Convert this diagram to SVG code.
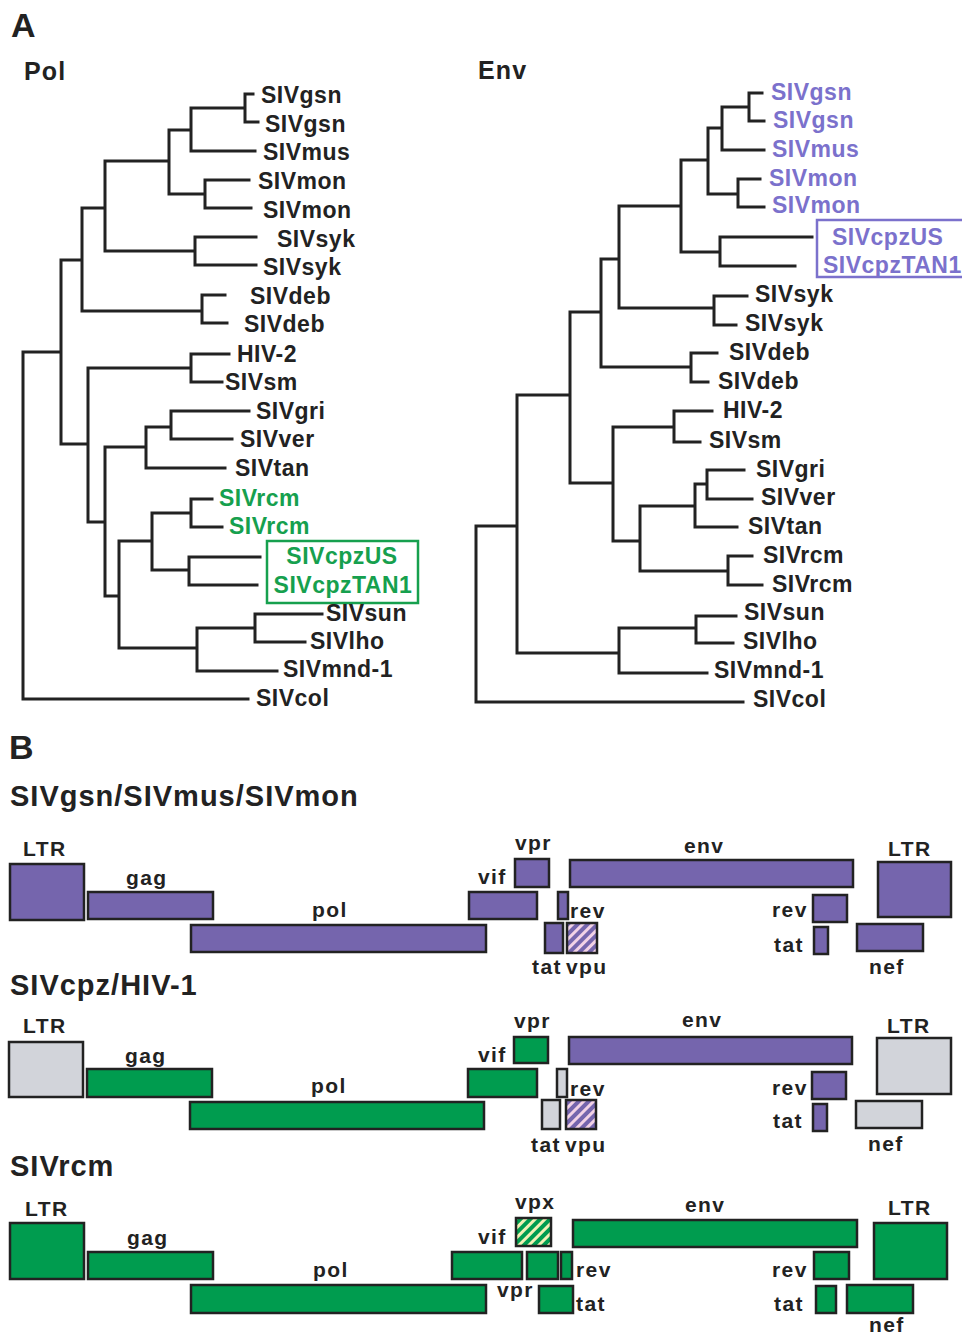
<svg xmlns="http://www.w3.org/2000/svg" width="962" height="1336" viewBox="0 0 962 1336">
<defs>
<style>
text{font-family:"Liberation Sans",Arial,Helvetica,sans-serif;font-weight:bold;fill:#222}
.lf{font-size:23px;letter-spacing:0.5px}
.pu{fill:#7b71cc}
.gn{fill:#16a04e}
.hd{font-size:29px;letter-spacing:1px}
.pn{font-size:34px}
.tt{font-size:25px;letter-spacing:1.2px}
.gl{font-size:21px;letter-spacing:1.4px}
.tree path{fill:none;stroke:#222;stroke-width:3;stroke-linecap:square}
rect{stroke:#222;stroke-width:2.5}
.P{fill:#7565ad}
.G{fill:#009c4f}
.R{fill:#d2d4da}
.HP{fill:url(#hp)}
.HG{fill:url(#hg)}
</style>
<pattern id="hp" patternUnits="userSpaceOnUse" width="7" height="7" patternTransform="rotate(45)">
<rect x="0" y="0" width="7" height="7" style="fill:#7565ad;stroke:none"/>
<rect x="0" y="0" width="3" height="7" style="fill:#f2d2e6;stroke:none"/>
</pattern>
<pattern id="hg" patternUnits="userSpaceOnUse" width="7" height="7" patternTransform="rotate(45)">
<rect x="0" y="0" width="7" height="7" style="fill:#009c4f;stroke:none"/>
<rect x="0" y="0" width="3" height="7" style="fill:#f2f0b4;stroke:none"/>
</pattern>
</defs>
<rect x="0" y="0" width="962" height="1336" style="fill:#fff;stroke:none"/>

<text class="pn" x="11" y="37">A</text>
<text class="tt" x="24" y="80">Pol</text>
<text class="tt" x="478" y="79">Env</text>

<g id="connectors" class="tree">
<path d="M253 94H245V122H258M245 108H191M191 108V151H255M191 130H169M249 180H205V208H251M205 194H169M169 130V194M169 161H105M256 237H195V265H256M195 251H105M105 161V251M105 208H82M225 295H202V323H227M202 311H82M82 208V311M82 260H61M61 260V444M61 352H23M229 354H191V382H222M191 368H88M249 411H171V439H232M171 427H146M146 427V468H225M146 447H105M212 499H191V527H222M191 513H152M260 557H189V585H257M189 570H152M152 513V570M152 541H119M322 614H255V642H305M255 628H197M197 628V671H277M197 648H119M119 541V648M119 596H105M105 447V596M105 522H88M88 368V522M88 444H61M23 352V699H248"/>
<path d="M762 93H749V121H764M749 107H722M722 107V150H764M722 128H708M760 179H738V207H764M738 194H708M708 128V194M708 160H681M812 237H720V266H795M720 252H681M681 160V252M681 206H619M747 296H714V325H736M714 308H619M619 206V308M619 259H601M717 353H691V382H708M691 367H601M601 259V367M601 312H570M570 312V483M570 395H517M712 411H674V442H700M674 427H613M744 470H707V499H752M707 484H695M695 484V527H737M695 506H640M752 556H728V585H762M728 571H640M640 506V571M640 541H613M613 427V541M613 483H570M736 616H696V643H733M696 628H619M619 628V673H707M619 653H517M517 395V653M517 526H476M476 526V702H743"/>
</g>

<g id="pol-tree">
<g id="pol-gsn1"><text class="lf" x="261" y="103">SIVgsn</text></g>
<g id="pol-gsn2"><text class="lf" x="265" y="132">SIVgsn</text></g>
<g id="pol-mus"><text class="lf" x="263" y="160">SIVmus</text></g>
<g id="pol-mon1"><text class="lf" x="258" y="189">SIVmon</text></g>
<g id="pol-mon2"><text class="lf" x="263" y="218">SIVmon</text></g>
<g id="pol-syk1"><text class="lf" x="277" y="247">SIVsyk</text></g>
<g id="pol-syk2"><text class="lf" x="263" y="275">SIVsyk</text></g>
<g id="pol-deb1"><text class="lf" x="250" y="304">SIVdeb</text></g>
<g id="pol-deb2"><text class="lf" x="244" y="332">SIVdeb</text></g>
<g id="pol-hiv2"><text class="lf" x="237" y="362">HIV-2</text></g>
<g id="pol-sm"><text class="lf" x="225" y="390">SIVsm</text></g>
<g id="pol-gri"><text class="lf" x="256" y="419">SIVgri</text></g>
<g id="pol-ver"><text class="lf" x="240" y="447">SIVver</text></g>
<g id="pol-tan"><text class="lf" x="235" y="476">SIVtan</text></g>
<g id="pol-rcm1"><text class="lf gn" x="219" y="506">SIVrcm</text></g>
<g id="pol-rcm2"><text class="lf gn" x="229" y="534">SIVrcm</text></g>
<g id="pol-cpz">
<rect x="267" y="541" width="151" height="62" style="fill:none;stroke:#16a04e;stroke-width:2.5"/>
<text class="lf gn" x="342" y="564" text-anchor="middle">SIVcpzUS</text>
<text class="lf gn" x="343" y="593" text-anchor="middle">SIVcpzTAN1</text>
</g>
<g id="pol-sun"><text class="lf" x="326" y="621">SIVsun</text></g>
<g id="pol-lho"><text class="lf" x="310" y="649">SIVlho</text></g>
<g id="pol-mnd1"><text class="lf" x="283" y="677">SIVmnd-1</text></g>
<g id="pol-col"><text class="lf" x="256" y="706">SIVcol</text></g>
</g>

<g id="env-tree">
<g id="env-gsn1"><text class="lf pu" x="771" y="100">SIVgsn</text></g>
<g id="env-gsn2"><text class="lf pu" x="773" y="128">SIVgsn</text></g>
<g id="env-mus"><text class="lf pu" x="772" y="157">SIVmus</text></g>
<g id="env-mon1"><text class="lf pu" x="769" y="186">SIVmon</text></g>
<g id="env-mon2"><text class="lf pu" x="772" y="213">SIVmon</text></g>
<g id="env-cpz">
<rect x="817" y="220" width="150" height="57" style="fill:none;stroke:#7b71cc;stroke-width:2.5"/>
<text class="lf pu" x="832" y="245">SIVcpzUS</text>
<text class="lf pu" x="823" y="273">SIVcpzTAN1</text>
</g>
<g id="env-syk1"><text class="lf" x="755" y="302">SIVsyk</text></g>
<g id="env-syk2"><text class="lf" x="745" y="331">SIVsyk</text></g>
<g id="env-deb1"><text class="lf" x="729" y="360">SIVdeb</text></g>
<g id="env-deb2"><text class="lf" x="718" y="389">SIVdeb</text></g>
<g id="env-hiv2"><text class="lf" x="723" y="418">HIV-2</text></g>
<g id="env-sm"><text class="lf" x="709" y="448">SIVsm</text></g>
<g id="env-gri"><text class="lf" x="756" y="477">SIVgri</text></g>
<g id="env-ver"><text class="lf" x="761" y="505">SIVver</text></g>
<g id="env-tan"><text class="lf" x="748" y="534">SIVtan</text></g>
<g id="env-rcm1"><text class="lf" x="763" y="563">SIVrcm</text></g>
<g id="env-rcm2"><text class="lf" x="772" y="592">SIVrcm</text></g>
<g id="env-sun"><text class="lf" x="744" y="620">SIVsun</text></g>
<g id="env-lho"><text class="lf" x="743" y="649">SIVlho</text></g>
<g id="env-mnd1"><text class="lf" x="714" y="678">SIVmnd-1</text></g>
<g id="env-col"><text class="lf" x="753" y="707">SIVcol</text></g>
</g>

<text class="pn" x="9" y="759">B</text>

<g id="genome-gsn">
<text class="hd" x="10" y="806">SIVgsn/SIVmus/SIVmon</text>
<g id="g1-ltr5"><rect class="P" x="10" y="864" width="74" height="56"/><text class="gl" x="23" y="856">LTR</text></g>
<g id="g1-gag"><rect class="P" x="88" y="892" width="125" height="27"/><text class="gl" x="126" y="885">gag</text></g>
<g id="g1-pol"><rect class="P" x="191" y="925" width="295" height="27"/><text class="gl" x="312" y="917">pol</text></g>
<g id="g1-vif"><rect class="P" x="469" y="892" width="68" height="27"/><text class="gl" x="478" y="884">vif</text></g>
<g id="g1-vpr"><rect class="P" x="515" y="859" width="34" height="28"/><text class="gl" x="515" y="850">vpr</text></g>
<g id="g1-env"><rect class="P" x="570" y="860" width="283" height="27"/><text class="gl" x="684" y="853">env</text></g>
<g id="g1-rev1"><rect class="P" x="558" y="892" width="10" height="27"/><text class="gl" x="570" y="918">rev</text></g>
<g id="g1-tat1"><rect class="P" x="545" y="923" width="18" height="30"/><text class="gl" x="532" y="974">tat</text></g>
<g id="g1-vpu"><rect class="HP" x="567" y="923" width="30" height="30"/><text class="gl" x="566" y="974">vpu</text></g>
<g id="g1-rev2"><rect class="P" x="813" y="895" width="34" height="27"/><text class="gl" x="772" y="917">rev</text></g>
<g id="g1-tat2"><rect class="P" x="814" y="927" width="14" height="27"/><text class="gl" x="774" y="952">tat</text></g>
<g id="g1-ltr3"><rect class="P" x="878" y="862" width="73" height="55"/><text class="gl" x="888" y="856">LTR</text></g>
<g id="g1-nef"><rect class="P" x="857" y="924" width="66" height="27"/><text class="gl" x="869" y="974">nef</text></g>
</g>

<g id="genome-cpz">
<text class="hd" x="10" y="995">SIVcpz/HIV-1</text>
<g id="g2-ltr5"><rect class="R" x="9" y="1042" width="74" height="55"/><text class="gl" x="23" y="1033">LTR</text></g>
<g id="g2-gag"><rect class="G" x="87" y="1069" width="125" height="28"/><text class="gl" x="125" y="1063">gag</text></g>
<g id="g2-pol"><rect class="G" x="190" y="1102" width="294" height="27"/><text class="gl" x="311" y="1093">pol</text></g>
<g id="g2-vif"><rect class="G" x="468" y="1069" width="69" height="28"/><text class="gl" x="478" y="1062">vif</text></g>
<g id="g2-vpr"><rect class="G" x="514" y="1037" width="34" height="26"/><text class="gl" x="514" y="1028">vpr</text></g>
<g id="g2-env"><rect class="P" x="569" y="1037" width="283" height="27"/><text class="gl" x="682" y="1027">env</text></g>
<g id="g2-rev1"><rect class="R" x="557" y="1069" width="10" height="28"/><text class="gl" x="570" y="1096">rev</text></g>
<g id="g2-tat1"><rect class="R" x="542" y="1100" width="18" height="29"/><text class="gl" x="531" y="1152">tat</text></g>
<g id="g2-vpu"><rect class="HP" x="566" y="1100" width="30" height="29"/><text class="gl" x="565" y="1152">vpu</text></g>
<g id="g2-rev2"><rect class="P" x="812" y="1072" width="34" height="27"/><text class="gl" x="772" y="1095">rev</text></g>
<g id="g2-tat2"><rect class="P" x="813" y="1104" width="14" height="27"/><text class="gl" x="773" y="1128">tat</text></g>
<g id="g2-ltr3"><rect class="R" x="877" y="1038" width="74" height="56"/><text class="gl" x="887" y="1033">LTR</text></g>
<g id="g2-nef"><rect class="R" x="856" y="1101" width="66" height="27"/><text class="gl" x="868" y="1151">nef</text></g>
</g>

<g id="genome-rcm">
<text class="hd" x="10" y="1176">SIVrcm</text>
<g id="g3-ltr5"><rect class="G" x="10" y="1223" width="74" height="56"/><text class="gl" x="25" y="1216">LTR</text></g>
<g id="g3-gag"><rect class="G" x="88" y="1252" width="125" height="27"/><text class="gl" x="127" y="1245">gag</text></g>
<g id="g3-pol"><rect class="G" x="191" y="1285" width="295" height="28"/><text class="gl" x="313" y="1277">pol</text></g>
<g id="g3-vif"><rect class="G" x="452" y="1252" width="70" height="27"/><text class="gl" x="478" y="1244">vif</text></g>
<g id="g3-vpx"><rect class="HG" x="516" y="1218" width="35" height="28"/><text class="gl" x="515" y="1209">vpx</text></g>
<g id="g3-vpr"><rect class="G" x="527" y="1252" width="31" height="27"/><text class="gl" x="497" y="1297">vpr</text></g>
<g id="g3-rev1"><rect class="G" x="561" y="1252" width="11" height="27"/><text class="gl" x="576" y="1277">rev</text></g>
<g id="g3-tat1"><rect class="G" x="539" y="1286" width="34" height="27"/><text class="gl" x="576" y="1311">tat</text></g>
<g id="g3-env"><rect class="G" x="573" y="1220" width="284" height="27"/><text class="gl" x="685" y="1212">env</text></g>
<g id="g3-rev2"><rect class="G" x="814" y="1252" width="35" height="27"/><text class="gl" x="772" y="1277">rev</text></g>
<g id="g3-tat2"><rect class="G" x="816" y="1286" width="20" height="27"/><text class="gl" x="774" y="1311">tat</text></g>
<g id="g3-ltr3"><rect class="G" x="874" y="1223" width="73" height="56"/><text class="gl" x="888" y="1215">LTR</text></g>
<g id="g3-nef"><rect class="G" x="847" y="1285" width="66" height="28"/><text class="gl" x="869" y="1332">nef</text></g>
</g>
</svg>
